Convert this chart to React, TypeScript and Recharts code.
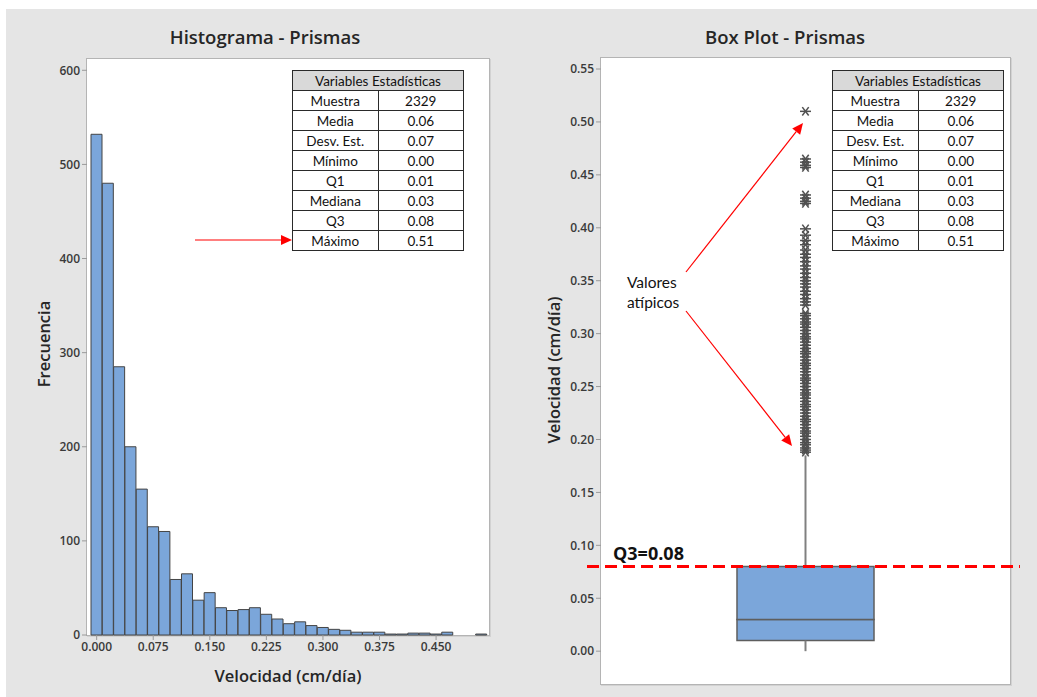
import {
  Bar,
  BarChart,
  ComposedChart,
  ReferenceArea,
  ReferenceLine,
  Scatter,
  XAxis,
  YAxis,
} from 'recharts'

// histogram: bin midpoints (cm/día) and frequency per bin
const binMids = [
  '0.000', '0.015', '0.030', '0.045', '0.060', '0.075', '0.090', '0.105', '0.120',
  '0.135', '0.150', '0.165', '0.180', '0.195', '0.210', '0.225', '0.240', '0.255',
  '0.270', '0.285', '0.300', '0.315', '0.330', '0.345', '0.360', '0.375', '0.390',
  '0.405', '0.420', '0.435', '0.450', '0.465', '0.480', '0.495', '0.510',
]
const binCounts = [
  532, 480, 285, 200, 155, 115, 110, 59, 65,
  37, 45, 29, 26, 27, 29, 22, 17, 12,
  14, 10, 8, 6, 5, 3, 3, 3, 1,
  1, 2, 2, 1, 3, 0, 0, 1,
]
const binTicks = ['0.000', '0.075', '0.150', '0.225', '0.300', '0.375', '0.450']
const freqTicks = [0, 100, 200, 300, 400, 500, 600]

// summary table
const statNames = ['Muestra', 'Media', 'Desv. Est.', 'Mínimo', 'Q1', 'Mediana', 'Q3', 'Máximo']
const statValues = ['2329', '0.06', '0.07', '0.00', '0.01', '0.03', '0.08', '0.51']

// box plot
const velTicks = [0, 0.05, 0.1, 0.15, 0.2, 0.25, 0.3, 0.35, 0.4, 0.45, 0.5, 0.55]
const whiskerTop = 0.185
const outliers = [
  0.51,
  0.465, 0.462, 0.459, 0.457,
  0.431, 0.428, 0.425, 0.423,
  0.399, 0.393, 0.388, 0.384, 0.379, 0.375, 0.372, 0.368, 0.364, 0.361, 0.357,
  0.353, 0.35, 0.347, 0.344, 0.34, 0.337, 0.333, 0.33, 0.327,
  0.319, 0.317, 0.314, 0.311, 0.309, 0.306, 0.303, 0.3, 0.297, 0.295, 0.292,
  0.289, 0.286, 0.283, 0.281, 0.278, 0.275, 0.272, 0.27, 0.267, 0.264, 0.261,
  0.258, 0.256, 0.253, 0.25, 0.247, 0.244, 0.242, 0.239, 0.236, 0.233, 0.231,
  0.228, 0.225, 0.222, 0.219, 0.217, 0.214, 0.211, 0.208, 0.206, 0.203, 0.2,
  0.197, 0.195, 0.192, 0.19, 0.188,
]

const minimo = Number(statValues[3])
const q1 = Number(statValues[4])
const mediana = Number(statValues[5])
const q3 = Number(statValues[6])

const histData = binMids.map((bin, i) => ({ bin, count: binCounts[i] }))
const outlierPoints = outliers.map((y) => ({ x: 1, y }))

const axisFont = "'Open Sans', sans-serif"
const tableFont = "Lato, 'Open Sans', sans-serif"
const barBlue = '#7ba6da'
const tickStyle = { fontSize: 12, fontWeight: 600, fill: '#3a3a3a', fontFamily: axisFont }

function Asterisk(props: any) {
  const { cx, cy } = props
  return (
    <g stroke="#505050" strokeWidth={1.5}>
      <line x1={cx - 5.5} y1={cy} x2={cx + 5.5} y2={cy} />
      <line x1={cx - 3.2} y1={cy - 4.2} x2={cx + 3.2} y2={cy + 4.2} />
      <line x1={cx - 3.2} y1={cy + 4.2} x2={cx + 3.2} y2={cy - 4.2} />
    </g>
  )
}

function Arrow({ x1, y1, x2, y2 }: { x1: number; y1: number; x2: number; y2: number }) {
  const len = Math.hypot(x2 - x1, y2 - y1)
  const ux = (x2 - x1) / len
  const uy = (y2 - y1) / len
  const head = 11
  const half = 5
  const bx = x2 - ux * head
  const by = y2 - uy * head
  return (
    <g>
      <line x1={x1} y1={y1} x2={bx} y2={by} stroke="#ff0000" strokeWidth={1.2} />
      <polygon
        points={`${x2},${y2} ${bx - uy * half},${by + ux * half} ${bx + uy * half},${by - ux * half}`}
        fill="#ff0000"
      />
    </g>
  )
}

function StatsTable({ left, top }: { left: number; top: number }) {
  const cell = {
    border: '1px solid #2a2a2a',
    padding: 0,
    height: 19,
    textAlign: 'center' as const,
    background: '#fff',
  }
  return (
    <table
      style={{
        position: 'absolute',
        left,
        top,
        width: 172,
        borderCollapse: 'collapse',
        fontFamily: tableFont,
        fontSize: 13.5,
        color: '#111',
        tableLayout: 'fixed',
        lineHeight: '18px',
      }}
    >
      <tbody>
        <tr>
          <td colSpan={2} style={{ ...cell, background: '#d9d9d9' }}>
            Variables Estadísticas
          </td>
        </tr>
        {statNames.map((name, i) => (
          <tr key={name}>
            <td style={cell}>{name}</td>
            <td style={cell}>{statValues[i]}</td>
          </tr>
        ))}
      </tbody>
    </table>
  )
}

const frame = {
  position: 'absolute' as const,
  background: '#fff',
  border: '1px solid #b4b4b4',
  boxShadow: '1px 1px 0 #d2d2d2',
  boxSizing: 'border-box' as const,
}

export default function App() {
  return (
    <div
      style={{
        position: 'absolute',
        left: 0,
        top: 0,
        width: 1037,
        height: 697,
        background: '#fff',
        overflow: 'hidden',
      }}
    >
      <div style={{ position: 'absolute', left: 6, top: 9, right: 0, bottom: 0, background: '#e5e5e5' }} />

      {/* plot frames */}
      <div style={{ ...frame, left: 86, top: 58, width: 404, height: 578 }} />
      <div style={{ ...frame, left: 600, top: 57, width: 411, height: 628 }} />

      {/* Histograma */}
      <div style={{ position: 'absolute', left: 0, top: 0 }}>
        <BarChart
          width={500}
          height={697}
          data={histData}
          margin={{ top: 59, right: 11, bottom: 32, left: 47 }}
          barCategoryGap={0}
        >
          <XAxis
            dataKey="bin"
            type="category"
            ticks={binTicks}
            interval={0}
            padding={{ left: 4, right: 2 }}
            axisLine={false}
            tickLine={{ stroke: '#9a9a9a' }}
            tickSize={5}
            tickMargin={2}
            height={30}
            tick={tickStyle}
          />
          <YAxis
            type="number"
            domain={[0, 612]}
            ticks={freqTicks}
            width={40}
            axisLine={false}
            tickLine={{ stroke: '#9a9a9a' }}
            tickSize={5}
            tickMargin={2}
            tick={tickStyle}
          />
          <Bar dataKey="count" fill={barBlue} stroke="#444" strokeWidth={1} isAnimationActive={false} />
        </BarChart>
      </div>

      {/* Box Plot */}
      <div style={{ position: 'absolute', left: 520, top: 0 }}>
        <ComposedChart width={517} height={697} margin={{ top: 58, right: 27, bottom: 13, left: 36 }}>
          <XAxis type="number" dataKey="x" domain={[0, 2]} hide />
          <YAxis
            type="number"
            dataKey="y"
            domain={[-0.031, 0.5604]}
            ticks={velTicks}
            tickFormatter={(v: number) => v.toFixed(2)}
            width={45}
            axisLine={false}
            tickLine={{ stroke: '#9a9a9a' }}
            tickSize={5}
            tickMargin={2}
            tick={tickStyle}
          />
          <ReferenceLine
            segment={[{ x: 1, y: minimo }, { x: 1, y: q1 }]}
            stroke="#808080"
            strokeWidth={2}
          />
          <ReferenceLine
            segment={[{ x: 1, y: q3 }, { x: 1, y: whiskerTop }]}
            stroke="#808080"
            strokeWidth={2}
          />
          <ReferenceArea
            x1={0.665}
            x2={1.335}
            y1={q1}
            y2={mediana}
            fill={barBlue}
            fillOpacity={1}
            stroke="#5e5e5e"
            strokeWidth={1.5}
          />
          <ReferenceArea
            x1={0.665}
            x2={1.335}
            y1={mediana}
            y2={q3}
            fill={barBlue}
            fillOpacity={1}
            stroke="#5e5e5e"
            strokeWidth={1.5}
          />
          <Scatter data={outlierPoints} dataKey="y" shape={Asterisk} isAnimationActive={false} />
          <ReferenceLine
            y={q3}
            stroke="#ff0000"
            strokeWidth={3}
            strokeDasharray="12 6"
            shape={(p: any) => (
              <line
                x1={p.x1 - 14}
                y1={p.y1}
                x2={p.x2 + 10}
                y2={p.y2}
                stroke="#ff0000"
                strokeWidth={3}
                strokeDasharray="12 6"
              />
            )}
            label={(p: any) => (
              <text
                x={p.viewBox.x + 12}
                y={p.viewBox.y - 7}
                fontFamily={axisFont}
                fontWeight={700}
                fontSize={18}
                fill="#111"
              >
                {`Q3=${statValues[6]}`}
              </text>
            )}
          />
        </ComposedChart>
      </div>

      <StatsTable left={292} top={70} />
      <StatsTable left={832} top={70} />

      {/* titles, axis titles and annotations */}
      <svg
        width={1037}
        height={697}
        style={{ position: 'absolute', left: 0, top: 0, pointerEvents: 'none' }}
        fontFamily={axisFont}
      >
        <text x={265} y={36} textAnchor="middle" dominantBaseline="central" fontSize={18.5} fontWeight={600} fill="#262626">
          Histograma - Prismas
        </text>
        <text x={785} y={36} textAnchor="middle" dominantBaseline="central" fontSize={18.5} fontWeight={600} fill="#262626">
          Box Plot - Prismas
        </text>
        <text
          transform="translate(43,344) rotate(-90)"
          textAnchor="middle"
          dominantBaseline="central"
          fontSize={16.5}
          fontWeight={600}
          fill="#262626"
        >
          Frecuencia
        </text>
        <text x={288} y={675} textAnchor="middle" dominantBaseline="central" fontSize={16.5} fontWeight={600} fill="#262626">
          Velocidad (cm/día)
        </text>
        <text
          transform="translate(553,370) rotate(-90)"
          textAnchor="middle"
          dominantBaseline="central"
          fontSize={16.5}
          fontWeight={600}
          fill="#262626"
        >
          Velocidad (cm/día)
        </text>

        <Arrow x1={195} y1={240} x2={292} y2={240} />

        <text x={627} y={282} dominantBaseline="central" fontSize={15.5} fontFamily={tableFont} fill="#111">
          Valores
        </text>
        <text x={627} y={302} dominantBaseline="central" fontSize={15.5} fontFamily={tableFont} fill="#111">
          atípicos
        </text>
        <Arrow x1={686} y1={272} x2={803} y2={123} />
        <Arrow x1={686} y1={311} x2={792} y2={446} />
      </svg>
    </div>
  )
}
